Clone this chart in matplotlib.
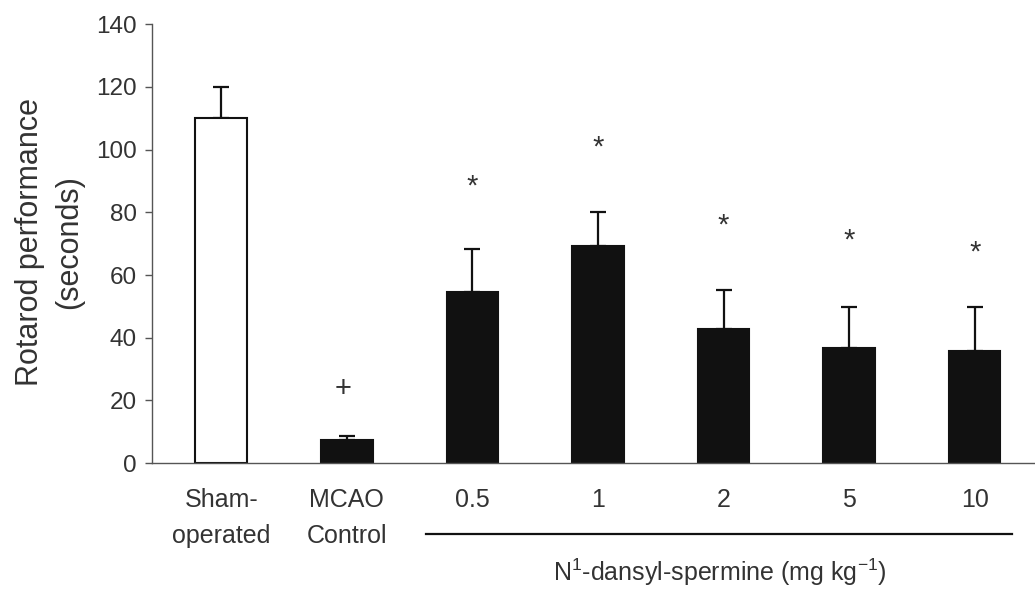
import numpy as np
import matplotlib
matplotlib.use("Agg")
import matplotlib.pyplot as plt

plt.rcParams['font.family'] = ['Liberation Sans', 'DejaVu Sans']
plt.rcParams['mathtext.fontset'] = 'custom'
plt.rcParams['mathtext.rm'] = 'Liberation Sans'
plt.rcParams['mathtext.it'] = 'Liberation Sans'

# data
groups = ['Sham-\noperated', 'MCAO\nControl', '0.5', '1', '2', '5', '10']
means = [110, 7.3, 54.5, 69.2, 42.8, 36.6, 35.8]
sem = [10, 1.3, 13.7, 10.8, 12.4, 13.1, 13.9]
marks = ['', '+', '*', '*', '*', '*', '*']
mark_y = [None, 23.6, 88.3, 100.8, 75.9, 71.1, 67.3]
bar_colors = ['white', '#111111', '#111111', '#111111', '#111111', '#111111', '#111111']

txt = '#333333'

fig = plt.figure(figsize=(10.35, 5.9), dpi=100)
ax = fig.add_axes([0.147, 0.215, 0.853, 0.744])

x = np.arange(len(groups))
ax.bar(x, means, width=0.41, color=bar_colors, edgecolor='#111111', linewidth=1.5, zorder=2)
ax.errorbar(x, means, yerr=[np.zeros(len(sem)), sem], fmt='none', ecolor='#111111',
            elinewidth=1.6, capsize=6, capthick=1.6, zorder=1)

for xi, m, yy in zip(x, marks, mark_y):
    if m == '*':
        ax.text(xi, yy, m, ha='center', va='center', fontsize=21, color=txt)
    elif m == '+':
        ax.text(xi - 0.03, yy, m, ha='center', va='center', fontsize=21, color=txt)

ax.set_xlim(-0.55, 6.48)
ax.set_ylim(0, 140)
ax.set_yticks(np.arange(0, 141, 20))
ax.set_xticks(x)
ax.set_xticklabels(groups, fontsize=18, color=txt, linespacing=1.6)
ax.tick_params(axis='x', length=0, pad=18)
ax.tick_params(axis='y', length=5, width=1, color='#555555', labelsize=17.5, labelcolor=txt, pad=6)

for s in ['top', 'right']:
    ax.spines[s].set_visible(False)
for s in ['left', 'bottom']:
    ax.spines[s].set_color('#555555')
    ax.spines[s].set_linewidth(1)

# group line + label for the dose bars
trans = ax.get_xaxis_transform()
ax.plot([1.63, 6.3], [-0.162, -0.162], transform=trans, color='#111111', lw=1.6, clip_on=False)
ax.text(3.97, -0.248, r'N$^1$-dansyl-spermine (mg kg$^{-1}$)', transform=trans,
        ha='center', va='center', fontsize=18, color=txt)

fig.text(0.048, 0.59, 'Rotarod performance\n(seconds)', rotation=90, ha='center', va='center',
         fontsize=22, color=txt, linespacing=1.4)

fig.savefig('out.png', dpi=100, facecolor='white')
